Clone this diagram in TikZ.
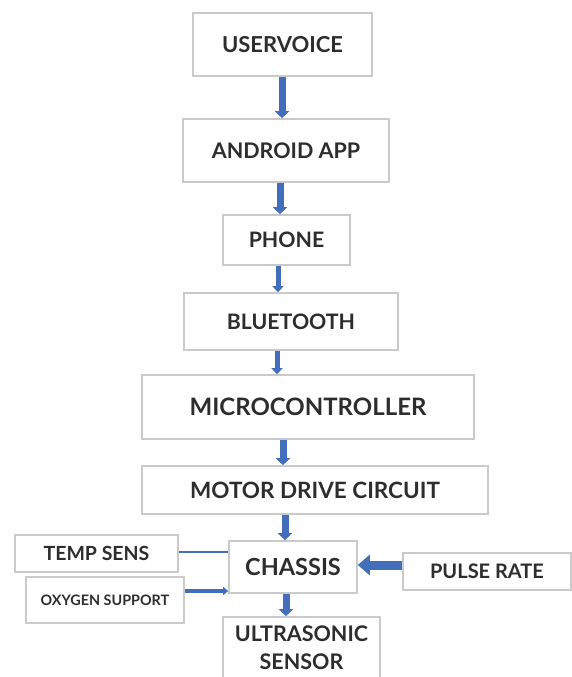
\documentclass[tikz,border=0pt]{standalone}
\usepackage{fontspec}
\setmainfont{Lato}
\usetikzlibrary{arrows.meta}

\definecolor{flowblue}{RGB}{66,110,188}
\definecolor{boxgray}{RGB}{202,202,202}
\definecolor{inkgray}{RGB}{45,45,45}

\begin{document}
\begin{tikzpicture}[x=1pt, y=-1pt,
    box/.style={draw=boxgray, line width=1.6pt, inner sep=0pt, text=inkgray, align=center},
    flow/.style={draw=flowblue, line width=7pt, -{Triangle[width=14pt,length=7pt]}},
    thinflow/.style={draw=flowblue, line width=5pt, -{Triangle[width=11pt,length=6pt]}},
    sideflow/.style={draw=flowblue, line width=3.5pt, -{Triangle[width=8pt,length=5pt]}},
    bigflow/.style={draw=flowblue, line width=9pt, -{Triangle[width=20pt,length=12pt]}}]

    \useasboundingbox (0,0) rectangle (572,677);

% Main chain of blocks
    \node[box, minimum width=179pt, minimum height=63pt, font=\bfseries\fontsize{22}{26}\selectfont] (user) at (282.5,44.5) {USERVOICE};
    \node[box, minimum width=206pt, minimum height=63pt, font=\bfseries\fontsize{21.5}{25}\selectfont] (app) at (286,150.5) {ANDROID APP};
    \node[box, minimum width=127pt, minimum height=50pt, font=\bfseries\fontsize{21.3}{25}\selectfont] (phone) at (286.5,240) {PHONE};
    \node[box, minimum width=214pt, minimum height=57pt, font=\bfseries\fontsize{21.3}{25}\selectfont] (bt) at (291,321.5) {BLUETOOTH};
    \node[box, minimum width=332pt, minimum height=64pt, font=\bfseries\fontsize{24}{28}\selectfont] (mcu) at (308,407) {MICROCONTROLLER};
    \node[box, minimum width=346pt, minimum height=48pt, font=\bfseries\fontsize{22.5}{26}\selectfont] (motor) at (315,490) {MOTOR DRIVE CIRCUIT};
    \node[box, minimum width=128pt, minimum height=52pt, font=\bfseries\fontsize{23.5}{27}\selectfont] (chassis) at (293,567) {CHASSIS};
    \node[box, minimum width=157pt, minimum height=62pt, font=\bfseries\fontsize{21.5}{28}\selectfont] (sonic) at (301.5,648) {ULTRASONIC\\SENSOR};

% Inputs round the chassis
    \node[box, minimum width=163pt, minimum height=37pt, font=\bfseries\fontsize{19.5}{23}\selectfont] (temp) at (96.5,553.5) {TEMP SENS};
    \node[box, minimum width=158pt, minimum height=46pt, font=\bfseries\fontsize{14.4}{17}\selectfont] (oxy) at (105,600) {OXYGEN SUPPORT};
    \node[box, minimum width=168pt, minimum height=37pt, font=\bfseries\fontsize{20}{24}\selectfont] (pulse) at (487,571.5) {PULSE RATE};

% Downward arrows
    \draw[flow] (user.south -| 282,0) -- (app.north -| 282,0);
    \draw[flow] (app.south -| 280,0) -- (phone.north -| 280,0);
    \draw[thinflow] (phone.south -| 278,0) -- (bt.north -| 278,0);
    \draw[thinflow] (bt.south -| 277,0) -- (mcu.north -| 277,0);
    \draw[flow] (mcu.south -| 283,0) -- (motor.north -| 283,0);
    \draw[flow] (motor.south -| 285,0) -- (chassis.north -| 285,0);
    \draw[flow] (chassis.south -| 286,0) -- (sonic.north -| 286,0);

% Side inputs
    \draw[draw=flowblue, line width=2.5pt] ([yshift=1.5pt]temp.east) -- ([yshift=1.5pt]temp.east -| chassis.west);
    \draw[sideflow] ([yshift=9pt]oxy.east) -- ([yshift=9pt]oxy.east -| chassis.west);
    \draw[bigflow] ([yshift=6.5pt]pulse.west) -- ([yshift=6.5pt]pulse.west -| chassis.east);

\end{tikzpicture}
\end{document}
